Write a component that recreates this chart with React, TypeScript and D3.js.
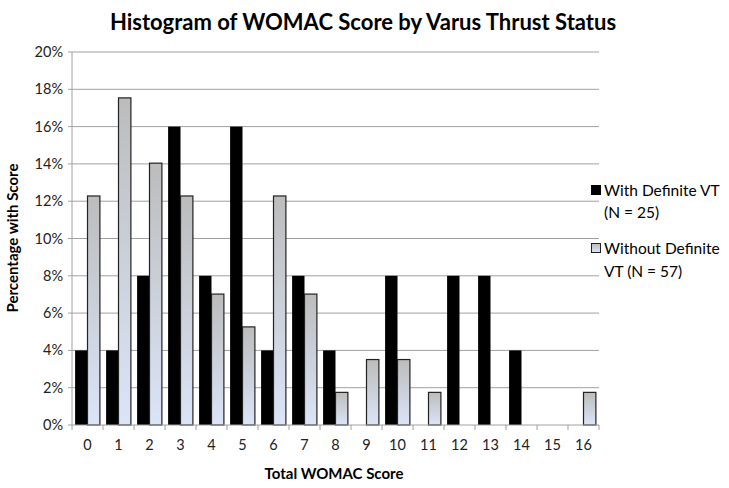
import React from "react";
import * as d3 from "d3";

const categories = ["0","1","2","3","4","5","6","7","8","9","10","11","12","13","14","15","16"];
const withVT = [4, 4, 8, 16, 8, 16, 4, 8, 4, 0, 8, 0, 8, 8, 4, 0, 0];
const withoutVT = [12.28, 17.54, 14.04, 12.28, 7.02, 5.26, 12.28, 7.02, 1.75, 3.51, 3.51, 1.75, 0, 0, 0, 0, 1.75];
const yTicks = [0, 2, 4, 6, 8, 10, 12, 14, 16, 18, 20];
const seriesNames = [["With Definite VT", "(N = 25)"], ["Without Definite", "VT (N = 57)"]];

export default function App() {
  const W = 729, H = 488;
  const left = 72, right = 599, top = 52, bottom = 425;
  const font = "Lato, 'Open Sans', sans-serif";
  const x = d3.scaleBand<string>().domain(categories).range([left, right]).paddingInner(0).paddingOuter(0);
  const y = d3.scaleLinear().domain([0, 20]).range([bottom, top]);
  const bw = x.bandwidth();
  const groupW = bw * 0.8;
  const barW = groupW / 2;
  const off = (bw - groupW) / 2;

  return (
    <svg width={W} height={H} style={{ position: "absolute", left: 0, top: 0, background: "#fff" }}>
      <defs>
        <linearGradient id="lg" x1="0" y1="0" x2="0" y2="1">
          <stop offset="0" stopColor="#bcbcbc" />
          <stop offset="1" stopColor="#dbe5f8" />
        </linearGradient>
      </defs>
      <rect x={0} y={0} width={W} height={H} fill="#fff" />
      <text x={363} y={30} textAnchor="middle" fontFamily={font} fontWeight="bold" fontSize={22} fill="#000">
        Histogram of WOMAC Score by Varus Thrust Status
      </text>
      {yTicks.map((t) => (
        <g key={t}>
          {t > 0 && <line x1={left - 4} x2={right} y1={y(t)} y2={y(t)} stroke="#a0a0a0" strokeWidth={1} />}
          <text x={63} y={y(t) + 5} textAnchor="end" fontFamily={font} fontSize={14.5} fill="#222">{t}%</text>
        </g>
      ))}
      {categories.map((c, i) => (
        <g key={c}>
          <rect x={(x(c) as number) + off} y={y(withVT[i])} width={barW} height={bottom - y(withVT[i])} fill="#000" />
          {withoutVT[i] > 0 && (
            <rect x={(x(c) as number) + off + barW} y={y(withoutVT[i])} width={barW} height={bottom - y(withoutVT[i])}
              fill="url(#lg)" stroke="#222" strokeWidth={1.2} />
          )}
          <text x={(x(c) as number) + bw / 2} y={450} textAnchor="middle" fontFamily={font} fontSize={14.5} fill="#222">{c}</text>
        </g>
      ))}
      {d3.range(categories.length + 1).map((i) => (
        <line key={i} x1={left + i * bw} x2={left + i * bw} y1={bottom} y2={bottom + 5} stroke="#a0a0a0" />
      ))}
      <line x1={left} x2={left} y1={top} y2={bottom} stroke="#a0a0a0" />
      <line x1={left - 4} x2={right} y1={bottom} y2={bottom} stroke="#a0a0a0" />
      <text x={334} y={479} textAnchor="middle" fontFamily={font} fontWeight="bold" fontSize={15} fill="#000">Total WOMAC Score</text>
      <text transform={`translate(18,238) rotate(-90)`} textAnchor="middle" fontFamily={font} fontWeight="bold" fontSize={15} fill="#000">Percentage with Score</text>
      <rect x={591} y={185} width={10} height={10} fill="#000" />
      <text x={604} y={196} fontFamily={font} fontSize={15.5} fill="#000">{seriesNames[0][0]}</text>
      <text x={604} y={218} fontFamily={font} fontSize={15.5} fill="#000">{seriesNames[0][1]}</text>
      <rect x={591.5} y={243.5} width={9} height={9} fill="url(#lg)" stroke="#222" />
      <text x={604} y={254} fontFamily={font} fontSize={15.5} fill="#000">{seriesNames[1][0]}</text>
      <text x={604} y={277} fontFamily={font} fontSize={15.5} fill="#000">{seriesNames[1][1]}</text>
    </svg>
  );
}
